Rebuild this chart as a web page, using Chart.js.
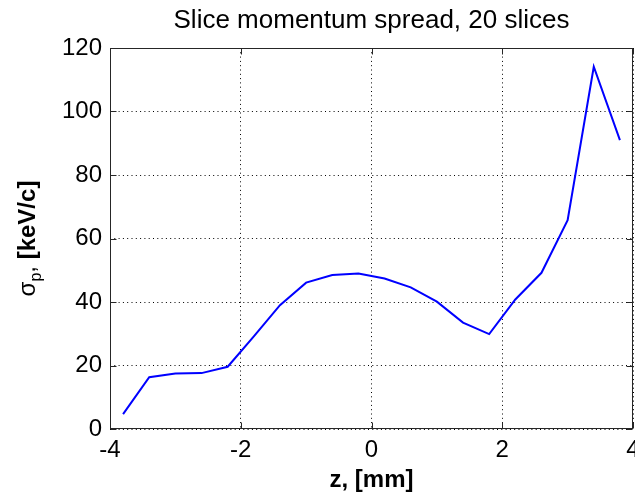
<!DOCTYPE html>
<html>
<head>
<meta charset="utf-8">
<title>Slice momentum spread</title>
<script src="https://cdn.jsdelivr.net/npm/chart.js@4.4.0/dist/chart.umd.min.js"></script>
<style>
  html, body { margin: 0; padding: 0; background: #fff; }
  #wrap { width: 635px; height: 496px; }
</style>
</head>
<body>
<div id="wrap"><canvas id="spreadChart" width="635" height="496"></canvas></div>
<script>
// slice centres along the bunch [mm] and rms momentum spread per slice [keV/c]
const zSlices = [-3.8, -3.4, -3.0, -2.6, -2.2, -1.8, -1.4, -1.0, -0.6, -0.2,
                 0.2, 0.6, 1.0, 1.4, 1.8, 2.2, 2.6, 3.0, 3.4, 3.8];
const sigmaP = [4.7, 16.3, 17.5, 17.6, 19.6, 29.2, 39.0, 46.1, 48.5, 49.0,
                47.4, 44.6, 40.1, 33.5, 29.9, 40.8, 49.2, 65.8, 114.1, 91.0];

const zTicks = [-4, -2, 0, 2, 4];
const sigmaTicks = [0, 20, 40, 60, 80, 100, 120];

const plotTitle = 'Slice momentum spread, 20 slices';
const xTitle = 'z, [mm]';

const FONT = '"Liberation Sans", Arial, Helvetica, sans-serif';
const AXIS_COLOR = '#262626';

// matlab style box, inward tick marks, title and the sigma_p label
const matlabFrame = {
  id: 'matlabFrame',
  afterDraw(chart) {
    const ctx = chart.ctx;
    const area = chart.chartArea;
    const xs = chart.scales.x, ys = chart.scales.y;
    const l = Math.round(area.left) + 0.5, r = Math.round(area.right) - 0.5;
    const t = Math.round(area.top) + 0.5, b = Math.round(area.bottom) - 0.5;
    const tick = 6;

    ctx.save();
    ctx.strokeStyle = AXIS_COLOR;
    ctx.lineWidth = 1;
    ctx.strokeRect(l, t, r - l, b - t);

    ctx.beginPath();
    zTicks.forEach(v => {
      const px = Math.round(xs.getPixelForValue(v)) + 0.5;
      ctx.moveTo(px, b); ctx.lineTo(px, b - tick);
      ctx.moveTo(px, t); ctx.lineTo(px, t + tick);
    });
    sigmaTicks.forEach(v => {
      const py = Math.round(ys.getPixelForValue(v)) + 0.5;
      ctx.moveTo(l, py); ctx.lineTo(l + tick, py);
      ctx.moveTo(r, py); ctx.lineTo(r - tick, py);
    });
    ctx.stroke();

    // title, centred over the axes
    ctx.fillStyle = '#000';
    ctx.font = '26px ' + FONT;
    ctx.textAlign = 'center';
    ctx.textBaseline = 'alphabetic';
    ctx.fillText(plotTitle, (area.left + area.right) / 2, 28);

    // y label: sigma with subscript p, then bold units
    const parts = [
      { text: 'σ', font: '24px ' + FONT, dy: 0 },
      { text: 'p', font: '16px ' + FONT, dy: 6 },
      { text: ', ', font: '24px ' + FONT, dy: 0 },
      { text: '[keV/c]', font: 'bold 24px ' + FONT, dy: 0 }
    ];
    let total = 0;
    parts.forEach(p => { ctx.font = p.font; p.w = ctx.measureText(p.text).width; total += p.w; });
    ctx.translate(35, (area.top + area.bottom) / 2);
    ctx.rotate(-Math.PI / 2);
    ctx.textAlign = 'left';
    let x = -total / 2;
    parts.forEach(p => {
      ctx.font = p.font;
      ctx.fillText(p.text, x, p.dy);
      x += p.w;
    });
    ctx.restore();
  }
};

const ctx = document.getElementById('spreadChart').getContext('2d');
const chart = new Chart(ctx, {
  type: 'line',
  data: {
    datasets: [{
      label: 'sigma_p',
      data: zSlices.map((z, i) => ({ x: z, y: sigmaP[i] })),
      borderColor: '#0000ff',
      borderWidth: 2,
      pointRadius: 0,
      tension: 0,
      fill: false
    }]
  },
  options: {
    responsive: false,
    animation: false,
    layout: { padding: { top: 48, right: 2, left: 0, bottom: 0 } },
    plugins: {
      legend: { display: false },
      title: { display: false },
      tooltip: { enabled: false }
    },
    scales: {
      x: {
        type: 'linear',
        min: -4,
        max: 4,
        afterBuildTicks: scale => { scale.ticks = zTicks.map(v => ({ value: v })); },
        afterFit: scale => { scale.height = 67; scale.paddingLeft = 0; scale.paddingRight = 0; },
        ticks: { color: '#000', font: { family: FONT, size: 24 }, padding: 7, maxRotation: 0 },
        grid: { color: '#000', lineWidth: 1, drawTicks: false },
        border: { display: false, dash: [1, 3.3] },
        title: {
          display: true,
          text: xTitle,
          color: '#000',
          font: { family: FONT, size: 24, weight: 'bold' },
          padding: { top: 0, bottom: 1.5 }
        }
      },
      y: {
        min: 0,
        max: 120,
        afterBuildTicks: scale => { scale.ticks = sigmaTicks.map(v => ({ value: v })); },
        afterFit: scale => { scale.width = 110; scale.paddingTop = 0; scale.paddingBottom = 0; },
        ticks: { color: '#000', font: { family: FONT, size: 24 }, padding: 8 },
        grid: { color: '#000', lineWidth: 1, drawTicks: false },
        border: { display: false, dash: [1, 3.3] }
      }
    }
  },
  plugins: [matlabFrame]
});
</script>
</body>
</html>
